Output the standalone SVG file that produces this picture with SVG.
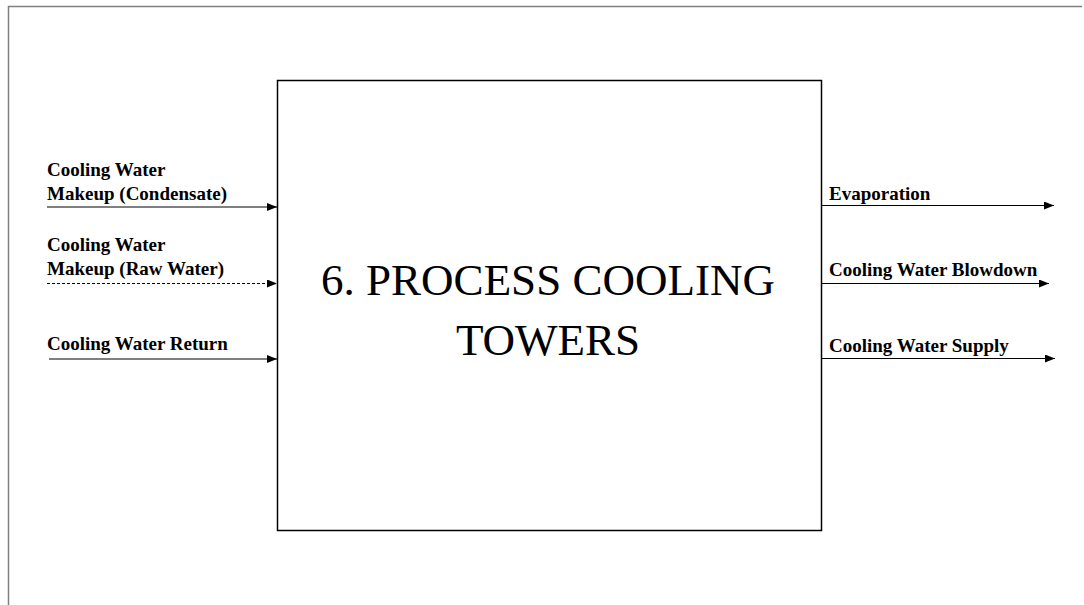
<svg xmlns="http://www.w3.org/2000/svg" width="1084" height="605" viewBox="0 0 1084 605">
<defs>
<style>
.lbl{font-family:"Liberation Serif","Times New Roman",serif;font-weight:bold;font-size:19px;fill:#000}
.title{font-family:"Liberation Serif","Times New Roman",serif;font-size:45px;fill:#000}
.ln{stroke:#000;stroke-width:1;fill:none}
.dash{stroke-dasharray:3,2}
</style>
<marker id="ah" markerWidth="10" markerHeight="8" refX="10" refY="4" orient="auto" markerUnits="userSpaceOnUse">
<path d="M0,0 L10,4 L0,8 Z" fill="#000"/>
</marker>
</defs>
<rect width="1084" height="605" fill="#fff"/>
<path d="M8.5,605 V6.5 H1082" stroke="#808080" stroke-width="1.5" fill="none"/>
<g id="node-towers">
<rect x="277.5" y="80.5" width="544" height="450" fill="#fff" stroke="#000" stroke-width="1.5"/>
<text class="title" x="548" y="295" text-anchor="middle">6. PROCESS COOLING</text>
<text class="title" x="548" y="355" text-anchor="middle">TOWERS</text>
</g>
<g id="connectors">
<line class="ln" x1="47" y1="207" x2="277" y2="207" marker-end="url(#ah)"/>
<line class="ln dash" x1="47" y1="283.5" x2="277" y2="283.5" marker-end="url(#ah)"/>
<line class="ln" x1="49" y1="359" x2="277" y2="359" marker-end="url(#ah)"/>
<line class="ln" x1="822" y1="205.5" x2="1054" y2="205.5" marker-end="url(#ah)"/>
<line class="ln" x1="822" y1="283.5" x2="1049" y2="283.5" marker-end="url(#ah)"/>
<line class="ln" x1="822" y1="358.5" x2="1055" y2="358.5" marker-end="url(#ah)"/>
</g>
<g id="labels">
<text class="lbl" x="47" y="176">Cooling Water</text>
<text class="lbl" x="47" y="200">Makeup (Condensate)</text>
<text class="lbl" x="47" y="251">Cooling Water</text>
<text class="lbl" x="47" y="275">Makeup (Raw Water)</text>
<text class="lbl" x="47" y="350">Cooling Water Return</text>
<text class="lbl" x="829" y="200">Evaporation</text>
<text class="lbl" x="829" y="276">Cooling Water Blowdown</text>
<text class="lbl" x="829" y="352">Cooling Water Supply</text>
</g>
</svg>
